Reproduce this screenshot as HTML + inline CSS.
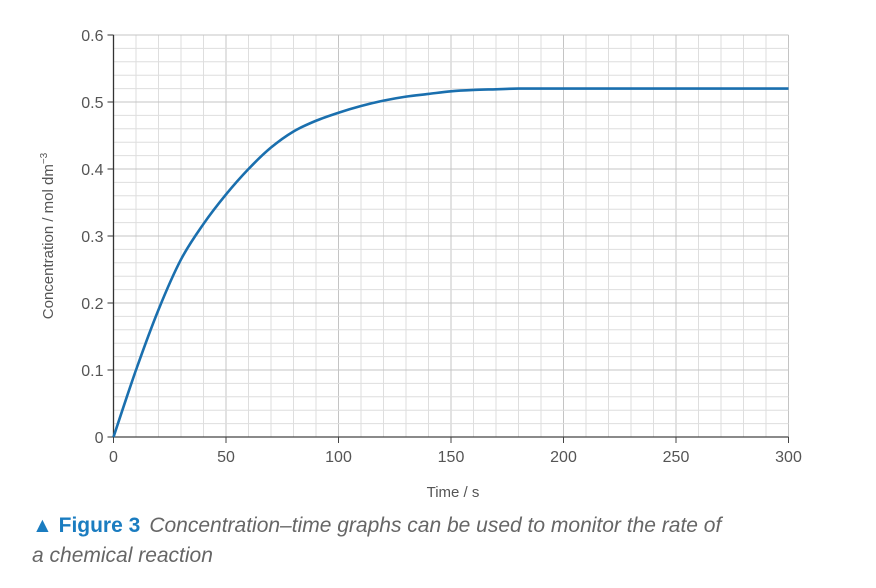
<!DOCTYPE html>
<html><head><meta charset="utf-8"><style>
body{margin:0;background:#fff;width:876px;height:583px;overflow:hidden;font-family:"Liberation Sans",sans-serif}
</style></head><body>
<svg width="876" height="583" id="chart">
<g id="grid"></g>
<g id="axes"></g>
<path id="curve" fill="none" stroke="#1a6fae" stroke-width="2.6" stroke-linejoin="round"/>
<text x="453" y="497" font-size="15" fill="#555" text-anchor="middle">Time / s</text>
<text transform="translate(53,236) rotate(-90)" font-size="15" fill="#555" text-anchor="middle">Concentration / mol dm<tspan dy="-6" font-size="10">−3</tspan></text>
<g>
<text x="32" y="532" font-size="21"><tspan fill="#1a7cc0" font-weight="bold">▲ Figure 3</tspan><tspan fill="#666" font-style="italic" dx="9">Concentration–time graphs can be used to monitor the rate of</tspan></text>
<text x="32" y="562" font-size="21" fill="#666" font-style="italic">a chemical reaction</text>
</g>
</svg>
<script>
const times=[0,10,20,30,40,50,60,70,80,90,100,110,120,130,140,150,160,170,180,200,250,300];
const conc=[0,0.10,0.19,0.265,0.318,0.362,0.40,0.432,0.456,0.472,0.484,0.494,0.502,0.508,0.512,0.516,0.518,0.519,0.52,0.52,0.52,0.52];
const xTicks=[0,50,100,150,200,250,300];
const yTicks=[0,0.1,0.2,0.3,0.4,0.5,0.6];
const yTickLabels=["0","0.1","0.2","0.3","0.4","0.5","0.6"];
const X0=113.5,X1=788.5,Y0=437,Y1=35;
const sx=v=>X0+(v/300)*(X1-X0);
const sy=v=>Y0-(v/0.6)*(Y0-Y1);
const NS="http://www.w3.org/2000/svg";
function mk(tag,attrs,parent){const e=document.createElementNS(NS,tag);for(const k in attrs)e.setAttribute(k,attrs[k]);parent.appendChild(e);return e;}
const grid=document.getElementById('grid'),axes=document.getElementById('axes');
for(let t=10;t<=300;t+=10){const l=mk('line',{x1:sx(t),x2:sx(t),y1:Y1,y2:Y0,stroke:t%50===0?'#c4c4c4':'#dedede','stroke-width':1},grid);

}
for(let i=1;i<=30;i++){const v=i*0.02;const l=mk('line',{x1:X0,x2:X1,y1:sy(v),y2:sy(v),stroke:i%5===0?'#c4c4c4':'#dedede','stroke-width':1},grid);

}
const ya=mk('line',{x1:X0,x2:X0,y1:Y1,y2:Y0,stroke:'#333','stroke-width':1.3},axes);


const xa=mk('line',{x1:X0,x2:X1,y1:Y0,y2:Y0,stroke:'#444','stroke-width':1.3},axes);


xTicks.forEach(t=>{const tk=mk('line',{x1:sx(t),x2:sx(t),y1:Y0,y2:Y0+6,stroke:'#444'},axes);


const tx=mk('text',{x:sx(t),y:Y0+25,'font-size':16,fill:'#555','text-anchor':'middle'},axes);tx.textContent=t;

});
yTicks.forEach((v,i)=>{const tk=mk('line',{x1:X0-6,x2:X0,y1:sy(v),y2:sy(v),stroke:'#333'},axes);


const tx=mk('text',{x:X0-10,y:sy(v)+6,'font-size':16,fill:'#555','text-anchor':'end'},axes);tx.textContent=yTickLabels[i];

});
const pts=times.map((t,i)=>[sx(t),sy(conc[i])]);
let d=`M${pts[0][0]},${pts[0][1]}`;
for(let i=0;i<pts.length-1;i++){const p0=pts[i-1]||pts[i],p1=pts[i],p2=pts[i+1],p3=pts[i+2]||p2;
d+=` C${p1[0]+(p2[0]-p0[0])/6},${p1[1]+(p2[1]-p0[1])/6} ${p2[0]-(p3[0]-p1[0])/6},${p2[1]-(p3[1]-p1[1])/6} ${p2[0]},${p2[1]}`;}
document.getElementById('curve').setAttribute('d',d);
</script>
</body></html>
